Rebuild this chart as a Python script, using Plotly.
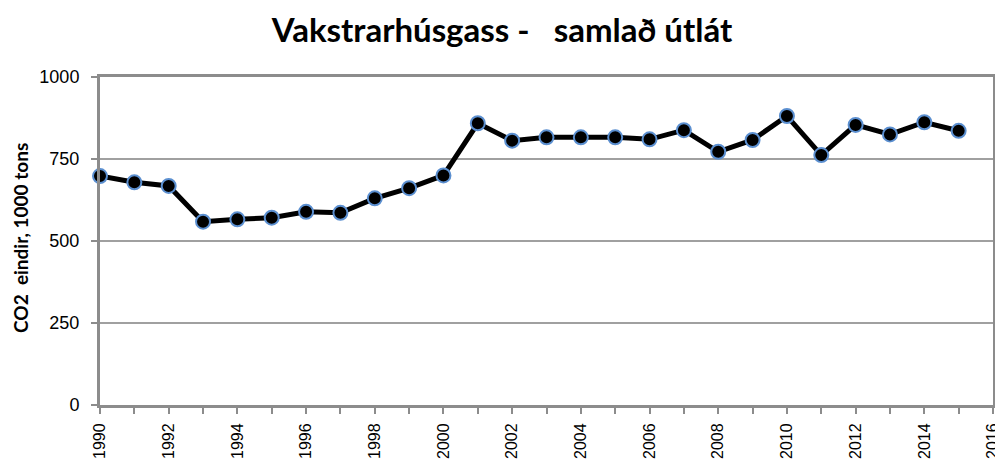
import plotly.graph_objects as go

years = list(range(1990, 2016))
emissions = [698, 679, 668, 559, 566, 571, 589, 586, 630, 661, 700, 859, 806,
             816, 816, 816, 810, 838, 772, 808, 881, 762, 854, 825, 862, 836]
x_ticks = list(range(1990, 2017, 2))
y_ticks = [0, 250, 500, 750, 1000]

title_text = "Vakstrarhúsgass -   samlað útlát"
y_title = "CO2  eindir, 1000 tons"

# page body adds an 8px offset; compensate so the plot area lands at
# x 100..993, y 77..405 in the 1003x459 window
OFF = 8
W, H = 1003 - OFF, 459 - OFF
L, R, T, B = 100 - OFF, 10, 77 - OFF, 54

fig = go.Figure()
fig.add_trace(go.Scatter(
    x=years, y=emissions, mode="lines+markers",
    line=dict(color="black", width=5),
    marker=dict(size=14, color="black", line=dict(color="#5b8fd0", width=2)),
    showlegend=False, cliponaxis=False,
))

axis_grey = "#8c8c8c"
fig.update_layout(
    width=W, height=H,
    margin=dict(l=L, r=R, t=T, b=B, autoexpand=False),
    paper_bgcolor="white", plot_bgcolor="white",
    title=dict(text=title_text, x=(502 - OFF) / W, xanchor="center",
               y=1 - (30 - OFF) / H, yanchor="middle",
               font=dict(family="Lato", size=33, color="black", weight="bold")),
    xaxis=dict(
        range=[1990, 2016], tickmode="array", tickvals=x_ticks,
        ticktext=[str(t) for t in x_ticks], tickangle=-90, automargin=False,
        showgrid=False, zeroline=False, ticklabelstandoff=3,
        showline=True, linecolor=axis_grey, linewidth=3, mirror=False,
        ticks="outside", ticklen=6, tickwidth=2, tickcolor=axis_grey,
        minor=dict(dtick=1, tick0=1990, ticks="outside", ticklen=6, tickwidth=2,
                   tickcolor=axis_grey, showgrid=False),
        tickfont=dict(family="Liberation Sans", size=16, color="black"),
    ),
    yaxis=dict(
        range=[0, 1000], tickmode="array", tickvals=y_ticks, automargin=False,
        showgrid=True, gridcolor="#a0a0a0", gridwidth=1.5, zeroline=False,
        showline=True, linecolor=axis_grey, linewidth=3, ticklabelstandoff=8,
        ticks="outside", ticklen=6, tickwidth=2, tickcolor=axis_grey,
        tickfont=dict(family="Liberation Sans", size=18, color="black"),
    ),
    xaxis2=dict(overlaying="x", matches="x", range=[1990, 2016], side="top",
                showline=True, linecolor=axis_grey, linewidth=3, automargin=False,
                showticklabels=False, showgrid=False, zeroline=False, ticks=""),
    yaxis2=dict(overlaying="y", matches="y", side="right", range=[0, 1000],
                showline=True, linecolor=axis_grey, linewidth=3, automargin=False,
                showticklabels=False, showgrid=False, zeroline=False, ticks=""),
)
fig.add_trace(go.Scatter(x=[None], y=[None], xaxis="x2", yaxis="y2",
                         showlegend=False, hoverinfo="skip"))
fig.add_annotation(text=y_title, xref="paper", yref="paper",
                   x=(20 - 100) / (W - L - R), y=(405 - 238) / (H - T - B),
                   xanchor="center", yanchor="middle", textangle=-90, showarrow=False,
                   font=dict(family="Lato", size=19, color="black", weight="bold"))

fig.write_html("out.html")
